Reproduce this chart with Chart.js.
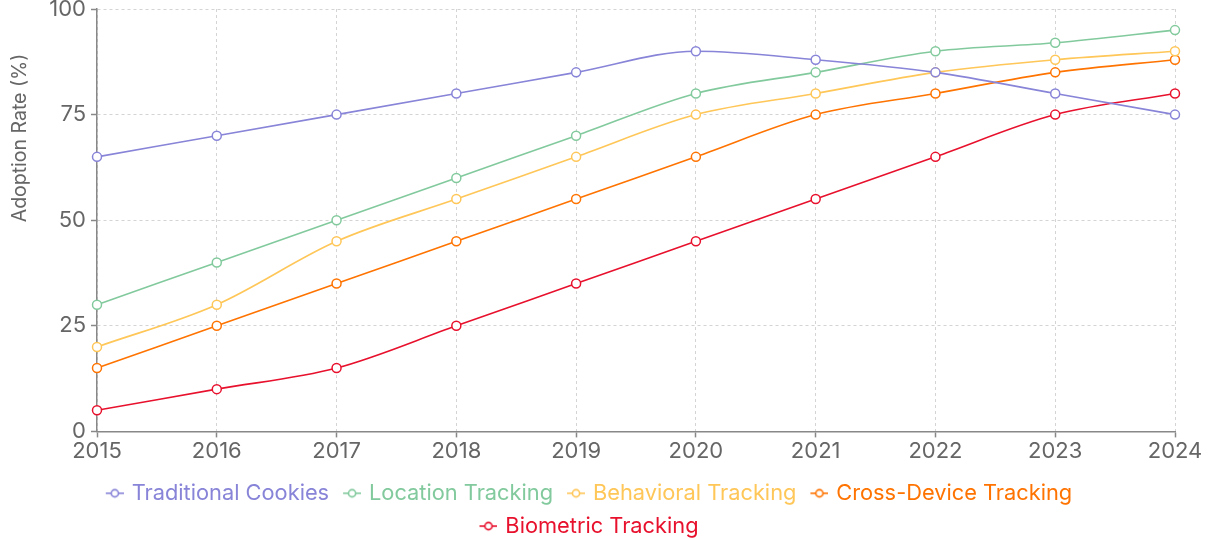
<!DOCTYPE html>
<html>
<head>
<meta charset="utf-8">
<script src="https://cdn.jsdelivr.net/npm/chart.js@4.4.1/dist/chart.umd.min.js"></script>
<style>
  html, body { margin: 0; padding: 0; background: #fff; }
  #wrap { width: 1211px; height: 539px; position: relative; }
</style>
</head>
<body>
<div id="wrap"><canvas id="c" width="1211" height="539"></canvas></div>
<script>
const years = ['2015','2016','2017','2018','2019','2020','2021','2022','2023','2024'];
const traditionalCookies = [65, 70, 75, 80, 85, 90, 88, 85, 80, 75];
const locationTracking   = [30, 40, 50, 60, 70, 80, 85, 90, 92, 95];
const behavioralTracking = [20, 30, 45, 55, 65, 75, 80, 85, 88, 90];
const crossDeviceTracking = [15, 25, 35, 45, 55, 65, 75, 80, 85, 88];
const biometricTracking  = [5, 10, 15, 25, 35, 45, 55, 65, 75, 80];
const yTicks = [0, 25, 50, 75, 100];

const seriesNames = ['Traditional Cookies','Location Tracking','Behavioral Tracking','Cross-Device Tracking','Biometric Tracking'];
const seriesData = [traditionalCookies, locationTracking, behavioralTracking, crossDeviceTracking, biometricTracking];
const seriesColors = ['#8884d8','#82ca9d','#ffc658','#ff7300','#e8112d'];

const FONT = 'Inter, "Liberation Sans", Arial, sans-serif';
const FS = 22;

function legendIcon(color) {
  // 24px wide canvas, icon drawn in the right 18px so it sits close to the text
  const cv = document.createElement('canvas');
  cv.width = 24; cv.height = 12;
  const g = cv.getContext('2d');
  g.strokeStyle = color; g.lineWidth = 1.6;
  g.beginPath(); g.moveTo(6, 6); g.lineTo(24, 6); g.stroke();
  g.beginPath(); g.arc(15, 6, 3.6, 0, Math.PI * 2);
  g.fillStyle = '#fff'; g.fill(); g.stroke();
  return cv;
}

const yTitlePlugin = {
  id: 'yTitle',
  afterDraw(chart) {
    const ctx = chart.ctx;
    ctx.save();
    ctx.translate(20, chart.chartArea.top + 129);
    ctx.rotate(-Math.PI / 2);
    ctx.font = '19.5px ' + FONT;
    ctx.fillStyle = '#666';
    ctx.textAlign = 'center';
    ctx.textBaseline = 'middle';
    ctx.fillText('Adoption Rate (%)', 0, 0);
    ctx.restore();
  }
};

new Chart(document.getElementById('c'), {
  type: 'line',
  data: {
    labels: years,
    datasets: seriesNames.map((n, i) => ({
      label: n,
      data: seriesData[i],
      borderColor: seriesColors[i],
      backgroundColor: '#fff',
      pointBackgroundColor: '#fff',
      pointBorderColor: seriesColors[i],
      pointRadius: 4.5,
      pointBorderWidth: 1.5,
      borderWidth: 1.6,
      cubicInterpolationMode: 'monotone',
      fill: false
    }))
  },
  options: {
    responsive: false,
    animation: false,
    layout: { padding: { top: 9, right: 36, bottom: -8, left: 0 } },
    plugins: {
      tooltip: { enabled: false },
      legend: {
        position: 'bottom',
        labels: {
          usePointStyle: true,
          boxWidth: 18,
          pointStyleWidth: 18,
          padding: 11,
          font: { family: FONT, size: 21.8 },
          generateLabels(chart) {
            return chart.data.datasets.map((ds, i) => ({
              text: ds.label,
              fontColor: seriesColors[i],
              pointStyle: legendIcon(seriesColors[i]),
              strokeStyle: seriesColors[i],
              fillStyle: '#fff',
              lineWidth: 0,
              hidden: false,
              datasetIndex: i
            }));
          }
        }
      }
    },
    scales: {
      x: {
        offset: false,
        afterFit(s) { s.height = 40; s.paddingLeft = 0; s.paddingRight = 0; },
        grid: { color: '#d4d4d4', lineWidth: 1, tickColor: '#888', tickLength: 6, tickWidth: 1.5 },
        border: { color: '#888', width: 1.5, dash: [3, 3] },
        ticks: { color: '#666', padding: 1, font: { family: FONT, size: FS }, maxRotation: 0, autoSkip: false }
      },
      y: {
        min: 0, max: 100,
        afterFit(s) { s.width = 97; s.paddingTop = 9; s.paddingBottom = 0; },
        afterBuildTicks(s) { s.ticks = yTicks.map(v => ({ value: v })); },
        grid: { color: '#d4d4d4', lineWidth: 1, tickColor: '#888', tickLength: 6, tickWidth: 1.5 },
        border: { color: '#888', width: 1.5, dash: [3, 3] },
        ticks: { color: '#666', padding: 5, font: { family: FONT, size: FS } }
      }
    }
  },
  plugins: [yTitlePlugin]
});
</script>
</body>
</html>
